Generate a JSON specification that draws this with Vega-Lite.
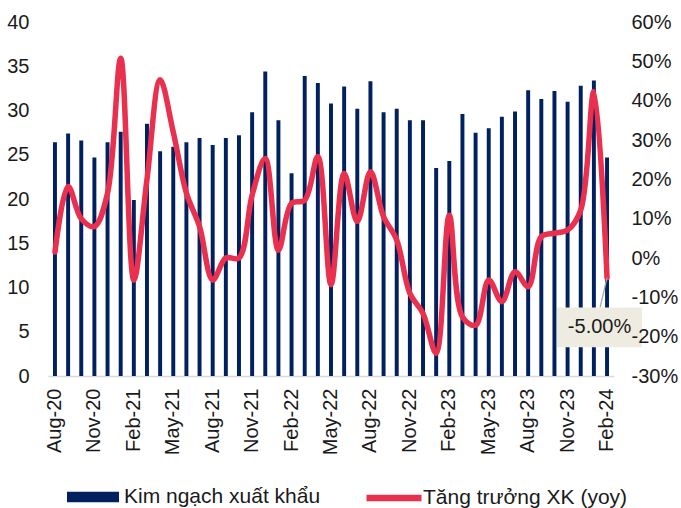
{
  "$schema": "https://vega.github.io/schema/vega-lite/v6.json",
  "width": 566,
  "height": 354,
  "autosize": {"type": "none"},
  "padding": {"left": 48, "top": 22, "right": 67, "bottom": 132},
  "background": "#ffffff",
  "config": {
    "locale": {"number": {"decimal": ".", "thousands": ",", "grouping": [3], "currency": ["$", ""], "minus": "-"}},
    "view": {"stroke": null},
    "font": "Liberation Sans",
    "axis": {"labelFont": "Liberation Sans", "labelFontSize": 20, "labelColor": "#1a1a1a", "grid": false, "ticks": false, "title": null, "labelOverlap": false},
    "legend": {"labelFont": "Liberation Sans", "labelFontSize": 21, "labelColor": "#1a1a1a", "padding": 0, "title": null, "labelLimit": 400}
  },
  "data": {
    "values": [
      {"m": "Aug-20", "v": 26.4, "g": 0.015},
      {"m": "Sep-20", "v": 27.4, "g": 0.182},
      {"m": "Oct-20", "v": 26.6, "g": 0.100},
      {"m": "Nov-20", "v": 24.7, "g": 0.080},
      {"m": "Dec-20", "v": 26.4, "g": 0.165},
      {"m": "Jan-21", "v": 27.6, "g": 0.508},
      {"m": "Feb-21", "v": 19.9, "g": -0.056},
      {"m": "Mar-21", "v": 28.5, "g": 0.200},
      {"m": "Apr-21", "v": 25.4, "g": 0.453},
      {"m": "May-21", "v": 25.9, "g": 0.320},
      {"m": "Jun-21", "v": 26.4, "g": 0.165},
      {"m": "Jul-21", "v": 26.9, "g": 0.080},
      {"m": "Aug-21", "v": 26.1, "g": -0.056},
      {"m": "Sep-21", "v": 26.9, "g": 0.000},
      {"m": "Oct-21", "v": 27.2, "g": 0.000},
      {"m": "Nov-21", "v": 29.8, "g": 0.160},
      {"m": "Dec-21", "v": 34.4, "g": 0.253},
      {"m": "Jan-22", "v": 28.9, "g": 0.020},
      {"m": "Feb-22", "v": 22.9, "g": 0.139},
      {"m": "Mar-22", "v": 33.9, "g": 0.147},
      {"m": "Apr-22", "v": 33.1, "g": 0.258},
      {"m": "May-22", "v": 30.8, "g": -0.068},
      {"m": "Jun-22", "v": 32.7, "g": 0.215},
      {"m": "Jul-22", "v": 30.2, "g": 0.093},
      {"m": "Aug-22", "v": 33.3, "g": 0.219},
      {"m": "Sep-22", "v": 29.8, "g": 0.105},
      {"m": "Oct-22", "v": 30.2, "g": 0.046},
      {"m": "Nov-22", "v": 28.9, "g": -0.090},
      {"m": "Dec-22", "v": 28.9, "g": -0.141},
      {"m": "Jan-23", "v": 23.5, "g": -0.242},
      {"m": "Feb-23", "v": 24.3, "g": 0.109},
      {"m": "Mar-23", "v": 29.6, "g": -0.150},
      {"m": "Apr-23", "v": 27.5, "g": -0.171},
      {"m": "May-23", "v": 28.0, "g": -0.056},
      {"m": "Jun-23", "v": 29.3, "g": -0.111},
      {"m": "Jul-23", "v": 29.9, "g": -0.035},
      {"m": "Aug-23", "v": 32.3, "g": -0.073},
      {"m": "Sep-23", "v": 31.3, "g": 0.054},
      {"m": "Oct-23", "v": 32.2, "g": 0.063},
      {"m": "Nov-23", "v": 31.0, "g": 0.071},
      {"m": "Dec-23", "v": 32.8, "g": 0.122},
      {"m": "Jan-24", "v": 33.4, "g": 0.423},
      {"m": "Feb-24", "v": 24.7, "g": -0.050}
    ]
  },
  "layer": [
    {
      "mark": {"type": "bar"},
      "encoding": {
        "x": {
          "field": "m", "type": "ordinal", "sort": null,
          "scale": {"paddingInner": 0.7, "paddingOuter": 0.38},
          "axis": {
            "values": ["Aug-20","Nov-20","Feb-21","May-21","Aug-21","Nov-21","Feb-22","May-22","Aug-22","Nov-22","Feb-23","May-23","Aug-23","Nov-23","Feb-24"],
            "labelAngle": -90, "labelPadding": 12, "domainColor": "#d9d9d9", "domainWidth": 1.5
          }
        },
        "y": {
          "field": "v", "type": "quantitative",
          "scale": {"domain": [0, 40], "nice": false},
          "axis": {"orient": "left", "values": [0,5,10,15,20,25,30,35,40], "domain": false, "labelPadding": 19, "labelOverlap": false}
        },
        "color": {
          "datum": "Kim ngạch xuất khẩu",
          "scale": {"range": ["#002060"]},
          "legend": {
            "orient": "none", "legendX": 19, "legendY": 449,
            "symbolType": "M-1,-0.2H1V0.2H-1Z", "symbolSize": 2704, "symbolStrokeWidth": 0, "labelOffset": 5
          }
        }
      }
    },
    {
      "layer": [
        {
          "mark": {"type": "line", "interpolate": "catmull-rom", "strokeWidth": 5.5, "strokeCap": "round"},
          "encoding": {
            "x": {"field": "m", "type": "ordinal", "sort": null, "bandPosition": 0.5},
            "y": {
              "field": "g", "type": "quantitative",
              "scale": {"domain": [-0.3, 0.6], "nice": false},
              "axis": {"orient": "right", "format": ".0%", "values": [-0.3,-0.2,-0.1,0,0.1,0.2,0.3,0.4,0.5,0.6], "domain": false, "labelPadding": 17, "labelOverlap": false, "labelFlush": false, "zindex": 1}
            },
            "stroke": {
              "datum": "Tăng trưởng XK (yoy)",
              "scale": {"range": ["#e9304f"]},
              "legend": {
                "orient": "none", "legendX": 315, "legendY": 445,
                "symbolType": "stroke", "symbolSize": 3025, "symbolStrokeWidth": 6.5, "labelOffset": -2
              }
            }
          }
        },
        {
          "transform": [{"filter": "datum.m == 'Feb-24'"}],
          "mark": {"type": "rule", "color": "#a6a6a6", "strokeWidth": 1.3, "x2Offset": -7},
          "encoding": {
            "x": {"field": "m", "type": "ordinal", "sort": null, "bandPosition": 0.5},
            "x2": {"field": "m"},
            "y": {"field": "g", "type": "quantitative", "axis": {"orient": "right", "format": ".0%", "values": [-0.3,-0.2,-0.1,0,0.1,0.2,0.3,0.4,0.5,0.6], "domain": false, "labelPadding": 17, "labelOverlap": false, "labelFlush": false, "zindex": 1}},
            "y2": {"datum": -0.126}
          }
        },
        {
          "transform": [{"filter": "datum.m == 'Feb-24'"}],
          "mark": {"type": "rect", "color": "#eeece1", "xOffset": -50, "x2Offset": 35},
          "encoding": {
            "x": {"field": "m", "type": "ordinal", "sort": null, "bandPosition": 0.5},
            "x2": {"field": "m"},
            "y": {"datum": -0.126, "type": "quantitative", "axis": {"orient": "right", "format": ".0%", "values": [-0.3,-0.2,-0.1,0,0.1,0.2,0.3,0.4,0.5,0.6], "domain": false, "labelPadding": 17, "labelOverlap": false, "labelFlush": false, "zindex": 1}},
            "y2": {"datum": -0.227}
          }
        },
        {
          "transform": [{"filter": "datum.m == 'Feb-24'"}],
          "mark": {"type": "text", "fontSize": 20, "color": "#1a1a1a", "dx": -7.5, "baseline": "middle", "align": "center"},
          "encoding": {
            "x": {"field": "m", "type": "ordinal", "sort": null, "bandPosition": 0.5},
            "y": {"datum": -0.175, "type": "quantitative", "axis": {"orient": "right", "format": ".0%", "values": [-0.3,-0.2,-0.1,0,0.1,0.2,0.3,0.4,0.5,0.6], "domain": false, "labelPadding": 17, "labelOverlap": false, "labelFlush": false, "zindex": 1}},
            "text": {"field": "g", "format": ".2%"}
          }
        }
      ]
    }
  ],
  "resolve": {"scale": {"y": "independent", "color": "independent", "stroke": "independent"}}
}
